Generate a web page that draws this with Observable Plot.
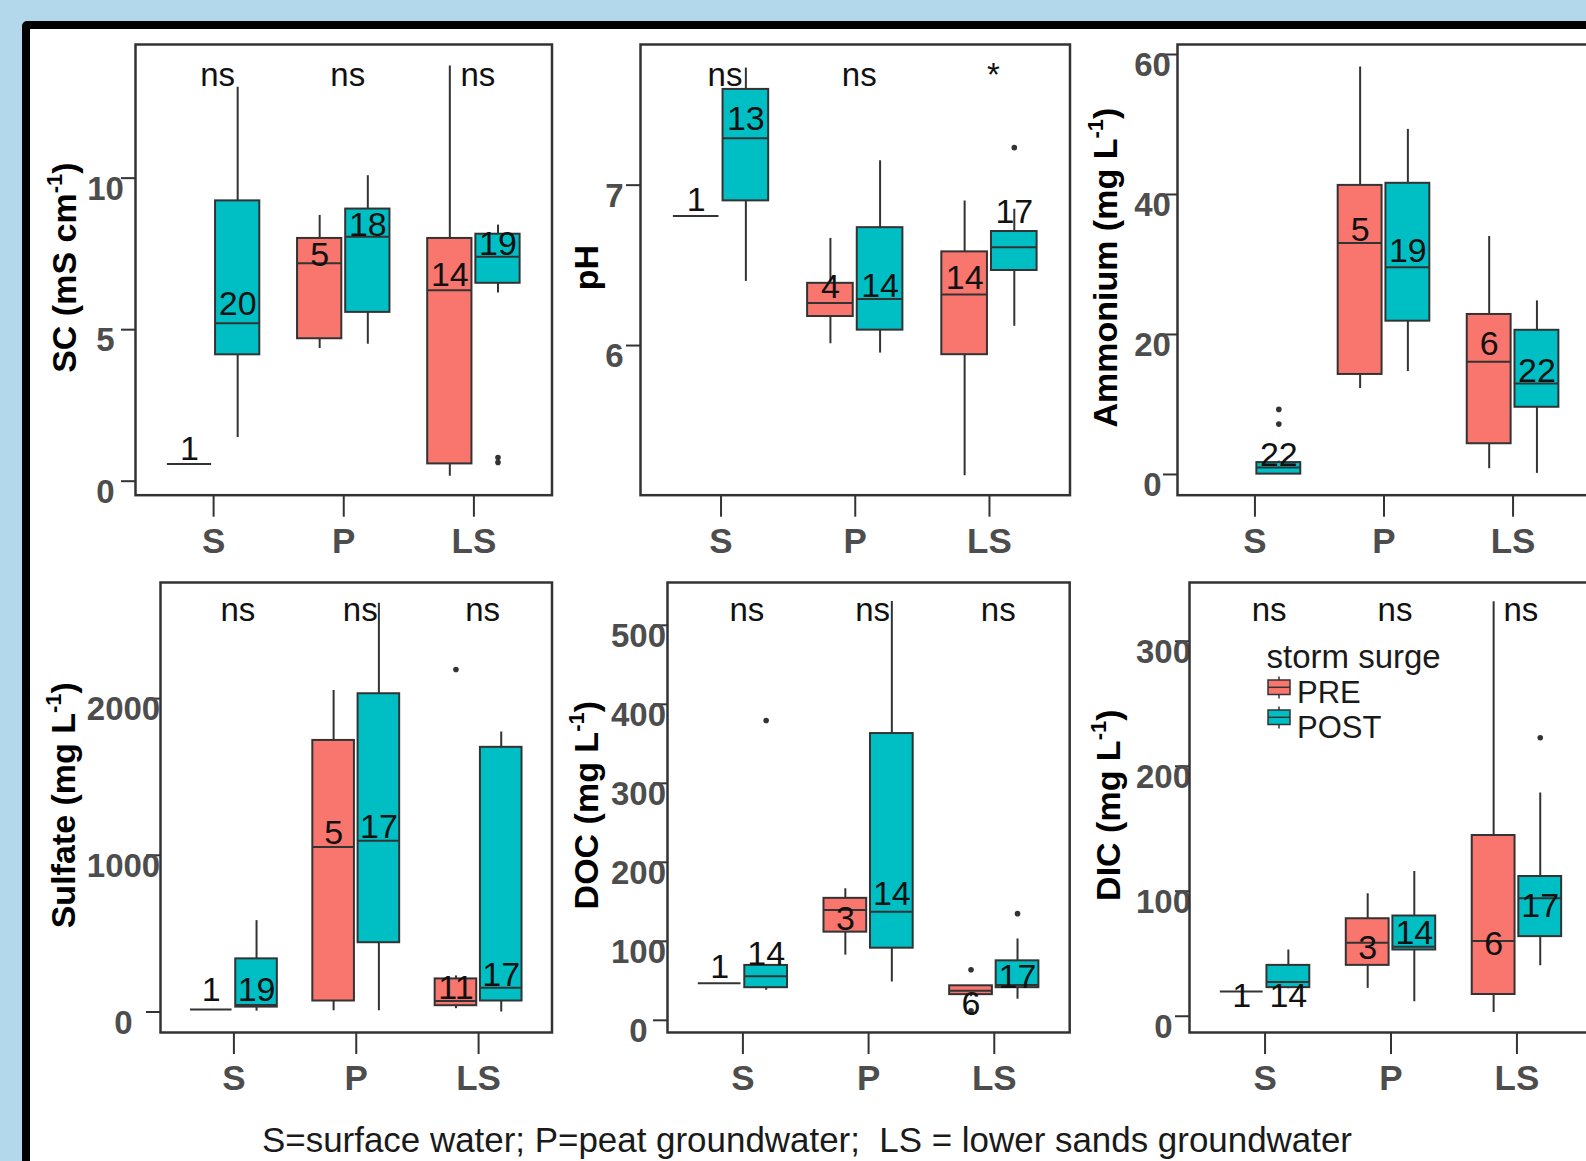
<!DOCTYPE html>
<html><head><meta charset="utf-8">
<script src="https://cdn.jsdelivr.net/npm/d3@7"></script>
<script src="https://cdn.jsdelivr.net/npm/@observablehq/plot@0.6"></script>
<style>
body{margin:0;background:#b3d8ec;}
#fig{position:relative;width:1586px;height:1161px;overflow:hidden;background:#b3d8ec;font-family:"Liberation Sans",Arial,sans-serif;}
#card{position:absolute;left:22px;top:21px;width:1700px;height:1300px;box-sizing:border-box;border:8px solid #000;border-radius:5px;background:#fff;}
.panel{position:absolute;}
.panel svg{background:transparent !important;overflow:visible;max-width:none !important;}
#overlay{position:absolute;left:0;top:0;pointer-events:none;}
</style></head>
<body><div id="fig"><div id="card"></div></div>
<script>
const FONT = '"Liberation Sans", Arial, sans-serif';
const categories = ["S", "P", "LS"];
const groups = ["PRE", "POST"];
const groupColors = ["#F8766D", "#00BFC4"];

// box rows: [category, group, n, lowerWhisker, q1, median, q3, upperWhisker, countLabelY]
const scBoxes = [
  ["S", "PRE", 1, 0.57, 0.57, 0.57, 0.57, 0.57, 0.7],
  ["S", "POST", 20, 1.44, 4.17, 5.21, 9.25, 13.0, 5.5],
  ["P", "PRE", 5, 4.38, 4.70, 7.19, 8.01, 8.77, 7.1],
  ["P", "POST", 18, 4.52, 5.57, 8.07, 8.98, 10.08, 8.1],
  ["LS", "PRE", 14, 0.16, 0.57, 6.30, 8.01, 13.7, 6.45],
  ["LS", "POST", 19, 6.21, 6.53, 7.41, 8.15, 8.45, 7.45]
];
const scOutliers = [["LS", "POST", 0.78], ["LS", "POST", 0.62]];
const scTicks = [0, 5, 10];
const scSig = ["ns", "ns", "ns"];
const scSigY = 13.05;

const phBoxes = [
  ["S", "PRE", 1, 6.807, 6.807, 6.807, 6.807, 6.807, 6.84],
  ["S", "POST", 13, 6.40, 6.902, 7.292, 7.597, 7.73, 7.347],
  ["P", "PRE", 4, 6.011, 6.181, 6.265, 6.388, 6.668, 6.294],
  ["P", "POST", 14, 5.953, 6.096, 6.29, 6.735, 7.152, 6.305],
  ["LS", "PRE", 14, 5.188, 5.943, 6.319, 6.584, 6.902, 6.354],
  ["LS", "POST", 17, 6.12, 6.468, 6.613, 6.711, 6.85, 6.762]
];
const phOutliers = [["LS", "POST", 7.234]];
const phTicks = [6, 7];
const phSig = ["ns", "ns", "*"];
const phSigY = 7.619;

const nhBoxes = [
  ["S", "POST", 22, 0, 0.05, 1.0, 1.7, 1.9, 1.19],
  ["P", "PRE", 5, 12.3, 14.29, 33.06, 41.3, 58.2, 33.3],
  ["P", "POST", 19, 14.7, 21.9, 29.6, 41.6, 49.3, 30.3],
  ["LS", "PRE", 6, 0.82, 4.39, 16.1, 22.86, 34.0, 17.0],
  ["LS", "POST", 22, 0.16, 9.6, 13.0, 20.6, 24.8, 13.2]
];
const nhOutliers = [["S", "POST", 9.3], ["S", "POST", 7.2]];
const nhTicks = [0, 20, 40, 60];
const nhSig = ["", "", ""];
const nhSigY = 58;

const so4Boxes = [
  ["S", "PRE", 1, 16, 16, 16, 16, 16, 70],
  ["S", "POST", 19, 5, 31, 45, 339, 583, 70],
  ["P", "PRE", 5, 8, 70, 1053, 1733, 2051, 1073],
  ["P", "POST", 17, 8, 442, 1092, 2031, 2609, 1109],
  ["LS", "PRE", 11, 21, 40, 70, 211, 230, 82],
  ["LS", "POST", 17, 0, 70, 155, 1689, 1787, 167]
];
const so4Outliers = [["LS", "PRE", 2186]];
const so4Ticks = [0, 1000, 2000];
const so4Sig = ["ns", "ns", "ns"];
const so4SigY = 2496;

const docBoxes = [
  ["S", "PRE", 1, 47, 47, 47, 47, 47, 53.4],
  ["S", "POST", 14, 38, 41.3, 55.8, 69.5, 70, 70.4],
  ["P", "PRE", 3, 82.5, 111.6, 139.7, 154.4, 166.5, 114],
  ["P", "POST", 14, 48.6, 91.3, 137.3, 363, 530, 145.6],
  ["LS", "PRE", 6, 30, 32.5, 37.5, 43.7, 44, 7.3],
  ["LS", "POST", 17, 26.7, 41.3, 44.7, 75.3, 103, 41.3]
];
const docOutliers = [["S", "POST", 379.5], ["LS", "PRE", 64], ["LS", "PRE", 12], ["LS", "POST", 135]];
const docTicks = [0, 100, 200, 300, 400, 500];
const docSig = ["ns", "ns", "ns"];
const docSigY = 505.6;

const dicBoxes = [
  ["S", "PRE", 1, 19.8, 19.8, 19.8, 19.8, 19.8, 7.6],
  ["S", "POST", 14, 22, 22.9, 27.5, 40.7, 53, 7.6],
  ["P", "PRE", 3, 22.3, 40.7, 58.8, 78, 98, 45.9],
  ["P", "POST", 14, 11.6, 53, 55.7, 80.2, 115.8, 58.2],
  ["LS", "PRE", 6, 3, 17.4, 60.3, 144.6, 331.7, 49],
  ["LS", "POST", 17, 40.4, 63.7, 94.4, 111.8, 178.6, 79.6]
];
const dicOutliers = [["LS", "POST", 222.8]];
const dicTicks = [0, 100, 200, 300];
const dicSig = ["ns", "ns", "ns"];
const dicSigY = 316;

const caption = "S=surface water; P=peat groundwater;  LS = lower sands groundwater";
const legendTitle = "storm surge";

// ---------- layout ----------
const DODGE = 0.185, HALF = 0.17;
const ML = 140, MR = 12, MT = 12, MB = 80;
const fig = document.getElementById("fig");

const panels = [
  {boxes: scBoxes, outliers: scOutliers, ticks: scTicks, sig: scSig, sigY: scSigY,
   domain: [-0.462, 14.41], fx: 135, fy: 44.3, fw: 416.5, fh: 450.7, tickC: 30,
   title: ["SC (mS cm", "-1", ")"], titleDx: -59.5},
  {boxes: phBoxes, outliers: phOutliers, ticks: phTicks, sig: phSig, sigY: phSigY,
   domain: [5.067, 7.877], fx: 640, fy: 44.3, fw: 429.5, fh: 450.7, tickC: 26,
   title: ["pH", "", ""], titleDx: -42},
  {boxes: nhBoxes, outliers: nhOutliers, ticks: nhTicks, sig: nhSig, sigY: nhSigY,
   domain: [-2.96, 61.43], fx: 1177, fy: 44.3, fw: 413, fh: 450.7, tickC: 25,
   title: ["Ammonium (mg L", "-1", ")"], titleDx: -60},
  {boxes: so4Boxes, outliers: so4Outliers, ticks: so4Ticks, sig: so4Sig, sigY: so4SigY,
   domain: [-131, 2741], fx: 160, fy: 582.2, fw: 391.5, fh: 450, tickC: 37,
   title: ["Sulfate (mg L", "-1", ")"], titleDx: -85},
  {boxes: docBoxes, outliers: docOutliers, ticks: docTicks, sig: docSig, sigY: docSigY,
   domain: [-15.4, 554.2], fx: 667.3, fy: 582.2, fw: 402.2, fh: 450, tickC: 29,
   title: ["DOC (mg L", "-1", ")"], titleDx: -69},
  {boxes: dicBoxes, outliers: dicOutliers, ticks: dicTicks, sig: dicSig, sigY: dicSigY,
   domain: [-13, 347], fx: 1189, fy: 582.2, fw: 403, fh: 450, tickC: 26,
   title: ["DIC (mg L", "-1", ")"], titleDx: -69}
];

const xPos = (cat, grp) => categories.indexOf(cat) + 1 + (grp === "PRE" ? -DODGE : DODGE);

function makePanel(cfg) {
  const rows = cfg.boxes.map(([cat, grp, n, lo, q1, med, q3, hi, ly]) => {
    const xc = xPos(cat, grp);
    return {cat, grp, n: String(n), lo, q1, med, q3, hi, ly, xc, x1: xc - HALF, x2: xc + HALF};
  });
  const outs = cfg.outliers.map(([cat, grp, v]) => ({xc: xPos(cat, grp), v}));
  const sigRows = cfg.sig.map((s, i) => ({xi: i + 1, s, y: cfg.sigY})).filter(d => d.s);
  const chart = Plot.plot({
    width: cfg.fw + ML + MR, height: cfg.fh + MT + MB,
    marginLeft: ML, marginRight: MR, marginTop: MT, marginBottom: MB,
    x: {type: "linear", domain: [0.4, 3.6]},
    y: {type: "linear", domain: cfg.domain},
    color: {domain: groups, range: groupColors},
    style: {background: "transparent", overflow: "visible", fontFamily: FONT, maxWidth: "none"},
    marks: [
      Plot.ruleX(rows, {x: "xc", y1: "lo", y2: "hi", stroke: "#333", strokeWidth: 2}),
      Plot.rect(rows.filter(d => d.q3 > d.q1), {x1: "x1", x2: "x2", y1: "q1", y2: "q3", fill: "grp", stroke: "#333", strokeWidth: 2}),
      Plot.ruleY(rows, {y: "med", x1: "x1", x2: "x2", stroke: "#333", strokeWidth: 2}),
      Plot.dot(outs, {x: "xc", y: "v", r: 2.8, fill: "#333", stroke: null}),
      Plot.text(rows, {x: "xc", y: "ly", text: "n", lineAnchor: "bottom", fontSize: 34, fill: "#111"}),
      Plot.text(sigRows, {x: "xi", y: "y", text: "s", lineAnchor: "bottom", dx: 4, fontSize: 33, fill: "#111"}),
      // y tick marks
      Plot.axisY({ticks: cfg.ticks, tickFormat: () => "", tickSize: 14, stroke: "#333", strokeWidth: 2, label: null}),
      // y tick labels
      Plot.axisY({ticks: cfg.ticks, tickFormat: d => String(d), tickSize: 0, tickPadding: 0, textAnchor: "middle",
        dx: -cfg.tickC, dy: 11, fontSize: 33, fontWeight: "bold", fill: "#4d4d4d", label: null}),
      Plot.axisX({ticks: [1, 2, 3], tickFormat: i => categories[i - 1], tickSize: 22, tickPadding: 11,
        fontSize: 35, fontWeight: "bold", fill: "#4d4d4d", stroke: "#333", strokeWidth: 2, label: null}),
      Plot.frame({stroke: "#333", strokeWidth: 2.5})
    ]
  });
  const div = document.createElement("div");
  div.className = "panel";
  div.style.left = (cfg.fx - ML) + "px";
  div.style.top = (cfg.fy - MT) + "px";
  div.appendChild(chart);
  fig.appendChild(div);
}
panels.forEach(makePanel);

// ---------- overlay: axis titles, legend, caption ----------
const svg = d3.select(fig).append("svg").attr("id", "overlay")
  .attr("width", 1586).attr("height", 1161).style("font-family", FONT);

panels.forEach(cfg => {
  const t = svg.append("text")
    .attr("transform", `translate(${cfg.fx + cfg.titleDx},${cfg.fy + cfg.fh / 2 - 2}) rotate(-90)`)
    .attr("text-anchor", "middle").attr("font-size", 34).attr("font-weight", "bold").attr("fill", "#000");
  t.append("tspan").text(cfg.title[0]);
  if (cfg.title[1]) {
    t.append("tspan").attr("font-size", 22).attr("dy", -14).text(cfg.title[1]);
    t.append("tspan").attr("dy", 14).text(cfg.title[2]);
  }
});

// legend (inside DIC panel)
const lg = svg.append("g");
lg.append("text").attr("x", 1266.5).attr("y", 668).attr("font-size", 33).attr("fill", "#1a1a1a").text(legendTitle);
groups.forEach((g, i) => {
  const top = i === 0 ? 680 : 710;
  const k = lg.append("g");
  k.append("line").attr("x1", 1279).attr("x2", 1279).attr("y1", top - 3.5).attr("y2", top + 18.5).attr("stroke", "#333").attr("stroke-width", 1.5);
  k.append("rect").attr("x", 1268).attr("y", top).attr("width", 22).attr("height", 14.5)
    .attr("fill", groupColors[i]).attr("stroke", "#333").attr("stroke-width", 1.5);
  k.append("line").attr("x1", 1268).attr("x2", 1290).attr("y1", top + 7.3).attr("y2", top + 7.3).attr("stroke", "#333").attr("stroke-width", 1.5);
  lg.append("text").attr("x", 1297).attr("y", i === 0 ? 703 : 738).attr("font-size", 31).attr("fill", "#1a1a1a").text(g);
});

svg.append("text").attr("x", 262).attr("y", 1151.5).attr("font-size", 35).attr("fill", "#1a1a1a")
  .attr("textLength", 1090).attr("lengthAdjust", "spacingAndGlyphs").style("white-space", "pre")
  .text(caption);
</script>
</body></html>
